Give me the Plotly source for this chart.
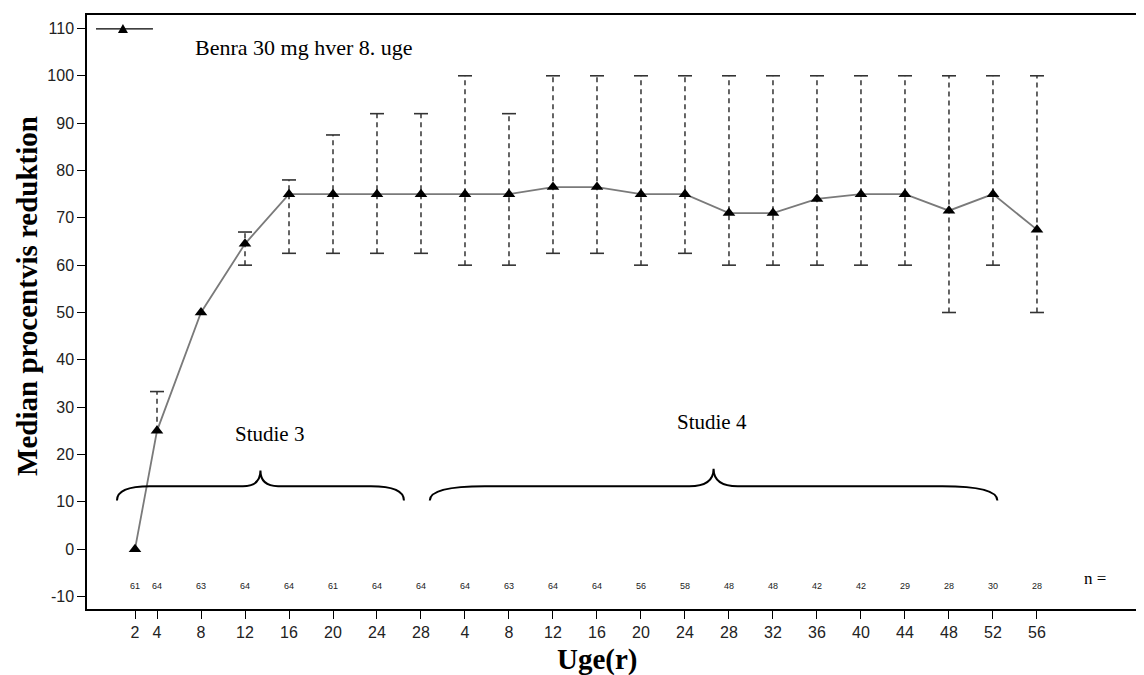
import plotly.graph_objects as go

# ---------------- data ----------------
study3_weeks = [2, 4, 8, 12, 16, 20, 24, 28]
study4_weeks = [4, 8, 12, 16, 20, 24, 28, 32, 36, 40, 44, 48, 52, 56]
study4_offset = 28

median = [0, 25, 50, 64.5, 75, 75, 75, 75,
          75, 75, 76.5, 76.5, 75, 75, 71, 71, 74, 75, 75, 71.5, 75, 67.5]
upper = [None, 33.3, None, 67, 78, 87.5, 92, 92,
         100, 92, 100, 100, 100, 100, 100, 100, 100, 100, 100, 100, 100, 100]
lower = [None, None, None, 60, 62.5, 62.5, 62.5, 62.5,
         60, 60, 62.5, 62.5, 60, 62.5, 60, 60, 60, 60, 60, 50, 60, 50]
n_values = [61, 64, 63, 64, 64, 61, 64, 64,
            64, 63, 64, 64, 56, 58, 48, 48, 42, 42, 29, 28, 30, 28]

tick_labels = [str(w) for w in study3_weeks] + [str(w) for w in study4_weeks]
y_ticks = list(range(-10, 111, 10))
y_tick_labels = [str(v) for v in y_ticks]
series_name = "Benra 30 mg hver 8. uge"

# combined x positions
xpos = study3_weeks + [w + study4_offset for w in study4_weeks]

SERIF = "Liberation Serif, Times New Roman, serif"
SANS = "Liberation Sans, Arial, sans-serif"

fig = go.Figure()

# dashed error bar stems
ex, ey = [], []
for x, m, hi, lo in zip(xpos, median, upper, lower):
    top = hi if hi is not None else m
    bot = lo if lo is not None else m
    if top != bot:
        ex += [x, x, None]
        ey += [bot, top, None]
fig.add_trace(go.Scatter(x=ex, y=ey, mode="lines",
                         line=dict(color="#333333", width=1.5, dash="5px,4px"),
                         hoverinfo="skip", showlegend=False))

# caps
cx = [x for x, v in zip(xpos, upper) if v is not None] + \
     [x for x, v in zip(xpos, lower) if v is not None]
cy = [v for v in upper if v is not None] + [v for v in lower if v is not None]
fig.add_trace(go.Scatter(x=cx, y=cy, mode="markers",
                         marker=dict(symbol="line-ew", size=10,
                                     line=dict(color="#333333", width=1.6)),
                         hoverinfo="skip", showlegend=False))

# median line
fig.add_trace(go.Scatter(x=xpos, y=median, mode="lines+markers", name=series_name,
                         line=dict(color="#7a7a7a", width=1.8),
                         marker=dict(symbol="triangle-up", size=11, color="black"),
                         showlegend=False))

# n labels
fig.add_trace(go.Scatter(x=xpos, y=[-8] * len(xpos), mode="text",
                         text=[str(v) for v in n_values],
                         textfont=dict(family=SANS, size=9, color="#222222"),
                         hoverinfo="skip", showlegend=False))


def brace(x0, x1, yend, yflat, ypeak, r_end, r_mid):
    xm = (x0 + x1) / 2
    return (f"M {x0},{yend} Q {x0},{yflat} {x0 + r_end},{yflat} "
            f"L {xm - r_mid},{yflat} Q {xm},{yflat} {xm},{ypeak} "
            f"Q {xm},{yflat} {xm + r_mid},{yflat} "
            f"L {x1 - r_end},{yflat} Q {x1},{yflat} {x1},{yend}")


shapes = [
    dict(type="path", xref="x", yref="y",
         path=brace(0.36, 26.45, 10.3, 13.3, 16.6, 3.0, 1.6),
         line=dict(color="black", width=2)),
    dict(type="path", xref="x", yref="y",
         path=brace(28.8, 80.4, 10.3, 13.3, 17.0, 5.0, 2.2),
         line=dict(color="black", width=2)),
    # legend sample line
    dict(type="line", xref="paper", yref="paper", x0=0.0085, x1=0.0624,
         y0=0.9765, y1=0.9765, line=dict(color="black", width=1.3)),
    # legend triangle
    dict(type="path", xref="paper", yref="paper", xsizemode="pixel", ysizemode="pixel",
         xanchor=0.034, yanchor=0.9765,
         path="M -5,-4 L 5,-4 L 0,5 Z", fillcolor="black", line=dict(color="black", width=0)),
]

annotations = [
    dict(text=series_name, xref="paper", yref="paper", x=0.1003, y=0.9446,
         xanchor="left", yanchor="middle", showarrow=False,
         font=dict(family=SERIF, size=22, color="black")),
    dict(text="Studie 3", xref="x", yref="y", x=14.2, y=24.4, showarrow=False,
         font=dict(family=SERIF, size=21, color="black")),
    dict(text="Studie 4", xref="x", yref="y", x=54.45, y=26.9, showarrow=False,
         font=dict(family=SERIF, size=21, color="black")),
    dict(text="n =", xref="x", yref="y", x=89.3, y=-6.1, showarrow=False,
         font=dict(family=SERIF, size=17, color="black")),
    dict(text="<b>Median procentvis reduktion</b>", xref="paper", yref="paper",
         x=-0.0568, y=0.527, textangle=-90, showarrow=False,
         xanchor="center", yanchor="middle",
         font=dict(family=SERIF, size=29, color="black")),
    dict(text="<b>Uge(r)</b>", xref="paper", yref="paper",
         x=0.4825, y=-0.0856, showarrow=False, xanchor="center", yanchor="middle",
         font=dict(family=SERIF, size=29, color="black")),
]

fig.update_layout(
    width=1144, height=675,
    margin=dict(l=79, r=8, t=5, b=74),
    paper_bgcolor="white", plot_bgcolor="white",
    shapes=shapes, annotations=annotations,
    xaxis=dict(range=[-2.364, 93.73], tickvals=xpos, ticktext=tick_labels,
               showgrid=False, zeroline=False, showline=True, linecolor="black",
               linewidth=1.5, mirror=True, ticks="outside", ticklen=8,
               tickcolor="black", tickwidth=1.3,
               tickfont=dict(family=SANS, size=16, color="#222222")),
    yaxis=dict(range=[-12.63, 112.84], tickvals=y_ticks, ticktext=y_tick_labels,
               showgrid=False, zeroline=False, showline=True, linecolor="black",
               linewidth=1.5, ticks="outside", ticklen=8, tickcolor="black",
               tickwidth=1.3,
               tickfont=dict(family=SANS, size=16, color="#222222")),
)

fig.write_html("out.html")
